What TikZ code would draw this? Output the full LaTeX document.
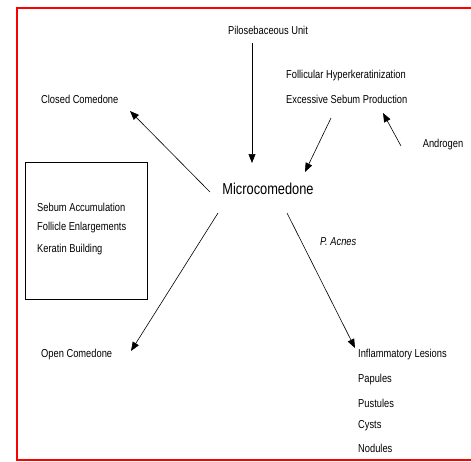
\documentclass[tikz,border=0pt]{standalone}
\usepackage{fontspec}
\setmainfont{Liberation Sans}[FakeStretch=0.81]
\usetikzlibrary{arrows.meta}
\begin{document}
\begin{tikzpicture}[x=1pt,y=-1pt,
  lbl/.style={inner sep=0pt,font=\fontsize{11.5}{13}\selectfont},
  arr/.style={draw=black,line width=0.6pt,-{Triangle[length=9pt,width=7pt]}},
  frame/.style={draw=red,line width=2pt}]
\useasboundingbox (0,0) rectangle (471,461);
\draw[frame] (474,7.5) -- (16.5,7.5) -- (16.5,459.5) -- (474,459.5);
\node[lbl] (pil) at (268,30) {Pilosebaceous Unit};
\node[lbl,anchor=west] (fol) at (286,76) {Follicular Hyperkeratinization};
\node[lbl,anchor=west] (exc) at (286,99) {Excessive Sebum Production};
\node[lbl] (and) at (443,145) {Androgen};
\node[lbl,anchor=west] (clo) at (41,99) {Closed Comedone};
\node[inner sep=0pt,font=\fontsize{15.8}{19}\selectfont] (mic) at (268,189) {Microcomedone};
\node[draw,line width=0.6pt,minimum width=122pt,minimum height=137pt,inner sep=0pt] (box) at (86,230.5) {};
\node[lbl,anchor=west] (seb) at (37,207) {Sebum Accumulation};
\node[lbl,anchor=west] (fen) at (37,228) {Follicle Enlargements};
\node[lbl,anchor=west] (ker) at (37,250) {Keratin Building};
\node[lbl,anchor=west] (ope) at (41,355) {Open Comedone};
\node[lbl,anchor=west,font=\fontsize{11.5}{13}\selectfont\itshape] (pac) at (320,242) {P. Acnes};
\node[lbl,anchor=west] (inf) at (358,355) {Inflammatory Lesions};
\node[lbl,anchor=west] (pap) at (358,380) {Papules};
\node[lbl,anchor=west] (pus) at (358,403) {Pustules};
\node[lbl,anchor=west] (cys) at (358,426) {Cysts};
\node[lbl,anchor=west] (nod) at (358,448) {Nodules};
\coordinate (pilS) at (252,43);
\coordinate (micN) at (252,163);
\coordinate (excS) at (331,118);
\coordinate (micNE) at (305,172);
\coordinate (andW) at (401,146);
\coordinate (excE) at (383,113);
\coordinate (micNW) at (210,192);
\coordinate (cloE) at (130,111);
\coordinate (micSW) at (218,213);
\coordinate (opeE) at (131,351);
\coordinate (micSE) at (287,213);
\coordinate (infW) at (355,348);
\draw[arr] (pilS) -- (micN);
\draw[arr] (excS) -- (micNE);
\draw[arr] (andW) -- (excE);
\draw[arr] (micNW) -- (cloE);
\draw[arr] (micSW) -- (opeE);
\draw[arr] (micSE) -- (infW);
\end{tikzpicture}
\end{document}
